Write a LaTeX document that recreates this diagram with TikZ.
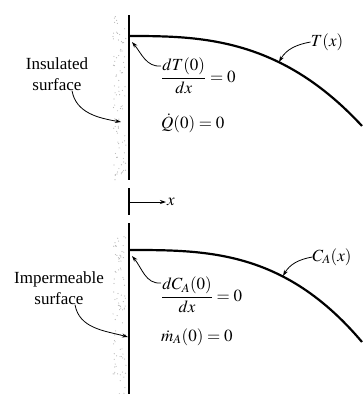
\documentclass[tikz,border=0pt]{standalone}
\usepackage{amsmath}
\usepackage{mathptmx}
\usepackage{fontspec}
\setmainfont{Liberation Serif}
\usetikzlibrary{arrows.meta}

\tikzset{
  wall/.style={line width=1.3pt},
  profile/.style={line width=2.2pt},
  pointer/.style={-{Stealth[length=6pt,width=4pt]}, line width=0.8pt},
  lbl/.style={font=\fontsize{17}{21}\selectfont, inner sep=0pt},
  grain/.style={fill=gray!55},
}

\begin{document}
\begin{tikzpicture}[x=1pt, y=-1pt]
    \useasboundingbox (0,0) rectangle (362,394);

    % stippled wall faces
    \pgfmathsetseed{7}
    \foreach \i in {1,...,90}
        \fill[grain] ({113+13*rnd},{15+165*rnd}) circle (0.6pt);
    \foreach \i in {1,...,90}
        \fill[grain] ({113+13*rnd},{235+159*rnd}) circle (0.6pt);

    % walls and origin mark
    \draw[wall] (129,15) -- (129,180);
    \draw[wall] (129,188) -- (129,215);
    \draw[wall] (129,223) -- (129,394);

    % profiles
    \draw[profile] plot[domain=0:233, samples=60] ({129+\x},{36+90*(\x/233)^2.8});
    \draw[profile] plot[domain=0:233, samples=60] ({129+\x},{250+92*(\x/233)^3});

    % x axis
    \coordinate (orig) at (129,202);
    \node[lbl, anchor=west] (xlab) at (167,202) {$\boldsymbol{x}$};
    \draw[pointer] (orig) -- ([xshift=-1pt]xlab.west);

    % upper part: heat
    \coordinate (Tpt) at (279,62);
    \coordinate (Ttop) at (132,42);
    \coordinate (insPt) at (121,122);
    \node[lbl] (Tlab) at (327,42) {$T(x)$};
    \node[lbl, align=center] (ins) at (57,74) {Insulated\\surface};
    \node[lbl, anchor=west] (eqT) at (161,76) {$\dfrac{dT(0)}{dx} = 0$};
    \node[lbl, anchor=west] (qT) at (161,123) {$\dot{Q}(0) = 0$};
    \draw[pointer] (Tlab.west) to[out=190, in=60] (Tpt);
    \draw[pointer] ([yshift=10pt]eqT.west) to[out=185, in=-50] (Ttop);
    \draw[pointer] ([xshift=15pt]ins.south) to[out=-80, in=170] (insPt);

    % lower part: mass
    \coordinate (Cpt) at (283,276);
    \coordinate (Ctop) at (132,256);
    \coordinate (impPt) at (128,337);
    \node[lbl] (Clab) at (332,257) {$C_A(x)$};
    \node[lbl, align=center] (imp) at (59,288) {Impermeable\\surface};
    \node[lbl, anchor=west] (eqC) at (161,295) {$\dfrac{dC_A(0)}{dx} = 0$};
    \node[lbl, anchor=west] (mC) at (161,337) {$\dot{m}_A(0) = 0$};
    \draw[pointer] (Clab.west) to[out=190, in=60] (Cpt);
    \draw[pointer] ([yshift=12pt]eqC.west) to[out=185, in=-50] (Ctop);
    \draw[pointer] ([xshift=16pt]imp.south) to[out=-80, in=165] (impPt);
\end{tikzpicture}
\end{document}
